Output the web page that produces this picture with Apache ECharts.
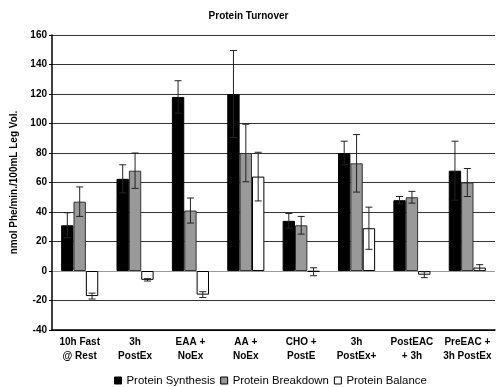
<!DOCTYPE html>
<html>
<head>
<meta charset="utf-8">
<script src="https://cdn.jsdelivr.net/npm/echarts@6/dist/echarts.min.js"></script>
<style>html,body{margin:0;padding:0;background:#fff}#c{width:497px;height:387px}</style>
</head>
<body>
<div id="c"></div>
<script>
const categories = ['10h Fast\n@ Rest', '3h\nPostEx', 'EAA +\nNoEx', 'AA +\nNoEx', 'CHO +\nPostE', '3h\nPostEx+', 'PostEAC\n+ 3h', 'PreEAC +\n3h PostEx'];
const synthesis = [31, 62.5, 118, 120, 34, 80, 48, 68];
const synthesisErr = [8.5, 9.5, 11, 29.5, 5, 8, 2.5, 20];
const breakdown = [47, 68, 41, 80, 31, 73, 50, 60];
const breakdownErr = [10, 12, 8.5, 19.5, 6, 19.5, 4, 9.5];
const balance = [-17, -6, -16, 64, -0.5, 29, -2.5, 2.3];
const balanceErr = [2, 0.8, 2, 16.5, 2.7, 14.3, 2, 2];
const seriesNames = ['Protein Synthesis', 'Protein Breakdown', 'Protein Balance'];
const yTicks = [-40, -20, 0, 20, 40, 60, 80, 100, 120, 140, 160];

const chart = echarts.init(document.getElementById('c'));
const FONT = 'Liberation Sans, Arial, sans-serif';
const catGap = 0.33;

const allVals = [synthesis, breakdown, balance];
const allErr = [synthesisErr, breakdownErr, balanceErr];
const errData = [];
for (let s = 0; s < 3; s++) {
  for (let i = 0; i < categories.length; i++) {
    errData.push([i, s, allVals[s][i] - allErr[s][i], allVals[s][i] + allErr[s][i]]);
  }
}

const splitColors = yTicks.map(v => v === 0 ? '#999' : (v === -40 ? '#000' : '#333'));

chart.setOption({
  animation: false,
  title: {
    text: 'Protein Turnover', left: 'center', top: 6,
    textStyle: { fontFamily: FONT, fontSize: 10, fontWeight: 'bold', color: '#000' }
  },
  legend: {
    data: seriesNames, left: 109, top: 370, icon: 'rect',
    itemWidth: 7, itemHeight: 7, itemGap: 5,
    textStyle: { fontFamily: FONT, fontSize: 11.4, color: '#000' },
    itemStyle: { borderColor: '#000', borderWidth: 1 }
  },
  grid: { left: 52, right: 2, top: 35, bottom: 57, containLabel: false },
  xAxis: {
    type: 'category', data: categories,
    axisLine: { onZero: false, lineStyle: { color: '#000', width: 1.5 } },
    axisTick: { show: false },
    axisLabel: { interval: 0, margin: 5, fontFamily: FONT, fontSize: 10, fontWeight: 'bold', color: '#000', lineHeight: 14 }
  },
  yAxis: {
    type: 'value', min: -40, max: 160, interval: 20,
    name: 'nmol Phe/min./100mL Leg Vol.', nameLocation: 'middle', nameGap: 33,
    nameTextStyle: { fontFamily: FONT, fontSize: 10, fontWeight: 'bold', color: '#000' },
    axisLine: { show: true, lineStyle: { color: '#000', width: 1.5 } },
    axisTick: { show: true, length: 3, lineStyle: { color: '#000' } },
    axisLabel: { margin: 5, fontFamily: FONT, fontSize: 10, fontWeight: 'bold', color: '#000' },
    splitLine: { show: true, lineStyle: { color: splitColors, width: 1.2 } }
  },
  series: [
    { name: seriesNames[0], type: 'bar', data: synthesis, barGap: '0%', barCategoryGap: (catGap * 100) + '%',
      itemStyle: { color: '#000', borderColor: '#000', borderWidth: 1, borderRadius: 0 } },
    { name: seriesNames[1], type: 'bar', data: breakdown, barGap: '0%', barCategoryGap: (catGap * 100) + '%',
      itemStyle: { color: '#999', borderColor: '#333', borderWidth: 1, borderRadius: 0 } },
    { name: seriesNames[2], type: 'bar', data: balance, barGap: '0%', barCategoryGap: (catGap * 100) + '%',
      itemStyle: { color: '#fff', borderColor: '#000', borderWidth: 1, borderRadius: 0 } },
    {
      type: 'custom', data: errData, z: 10, silent: true,
      renderItem: function (params, api) {
        const ci = api.value(0), s = api.value(1);
        const catW = api.size([1, 0])[0];
        const bw = catW * (1 - catGap) / 3;
        const lo = api.coord([ci, api.value(2)]);
        const hi = api.coord([ci, api.value(3)]);
        const x = lo[0] + (s - 1) * bw;
        const cap = 3.5;
        const st = { stroke: '#222', lineWidth: 1 };
        return { type: 'group', children: [
          { type: 'line', shape: { x1: x, y1: lo[1], x2: x, y2: hi[1] }, style: st },
          { type: 'line', shape: { x1: x - cap, y1: lo[1], x2: x + cap, y2: lo[1] }, style: st },
          { type: 'line', shape: { x1: x - cap, y1: hi[1], x2: x + cap, y2: hi[1] }, style: st }
        ] };
      }
    }
  ]
});
</script>
</body>
</html>
